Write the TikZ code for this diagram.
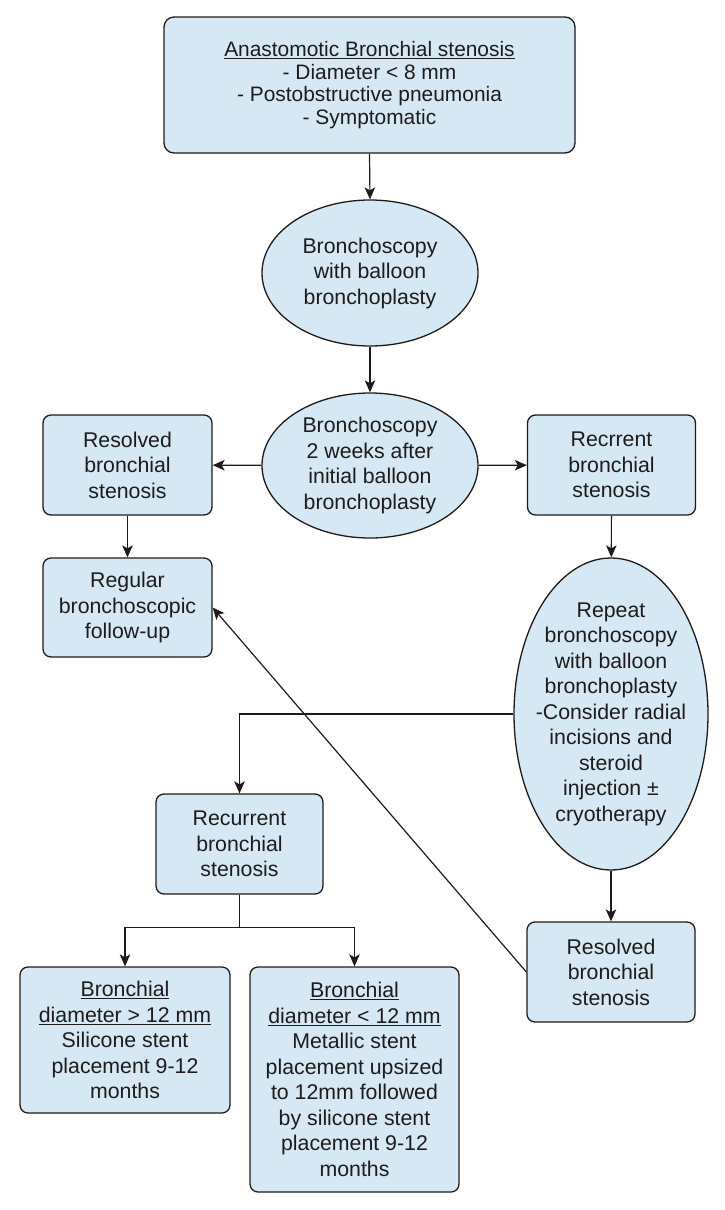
\documentclass[tikz,border=0pt]{standalone}
\usepackage{fontspec}
\setmainfont{Liberation Sans}
\usetikzlibrary{shapes.geometric,arrows.meta}
\definecolor{boxfill}{RGB}{214,232,244}
\definecolor{ink}{RGB}{30,27,28}
\begin{document}
\begin{tikzpicture}[x=1pt,y=-1pt,
  base/.style={draw=ink, fill=boxfill, line width=1.3pt, text=ink, align=center, font=\fontsize{21.3}{25.5}\selectfont},
  rbox/.style={base, rectangle, rounded corners=8pt, inner sep=0pt},
  oval/.style={base, ellipse, inner sep=-25pt},
  conn/.style={draw=ink, line width=1.2pt},
  arr/.style={conn, -{Stealth[length=12pt,width=10.5pt,inset=3pt]}}
]
\useasboundingbox (0,0) rectangle (724,1210);

\node[rbox, minimum width=411pt, minimum height=136pt, rounded corners=10pt, font=\fontsize{20.9}{22.7}\selectfont] (top) at (369.5,85) {\underline{Anastomotic Bronchial stenosis}\\- Diameter < 8 mm\\- Postobstructive pneumonia\\- Symptomatic};
\node[oval, minimum width=216pt, minimum height=146pt] (e1) at (370,273) {Bronchoscopy\\with balloon\\bronchoplasty};
\node[oval, minimum width=216pt, minimum height=145pt] (e2) at (370,465.5) {Bronchoscopy\\2 weeks after\\initial balloon\\bronchoplasty};
\node[rbox, minimum width=169pt, minimum height=100pt] (res1) at (127.5,465) {Resolved\\bronchial\\stenosis};
\node[rbox, minimum width=168pt, minimum height=100pt] (rec1) at (611.5,465) {Recrrent\\bronchial\\stenosis};
\node[rbox, minimum width=169pt, minimum height=99pt] (reg) at (127.5,607.5) {Regular\\bronchoscopic\\follow-up};
\node[oval, minimum width=194pt, minimum height=312pt] (big) at (611,714) {Repeat\\bronchoscopy\\with balloon\\bronchoplasty\\-Consider radial\\incisions and\\steroid\\injection ±\\cryotherapy};
\node[rbox, minimum width=167pt, minimum height=100pt] (rec2) at (239.5,844) {Recurrent\\bronchial\\stenosis};
\node[rbox, minimum width=210pt, minimum height=146pt] (bl) at (125,1040) {\underline{Bronchial}\\\underline{diameter > 12 mm}\\Silicone stent\\placement 9-12\\months};
\node[rbox, minimum width=209pt, minimum height=225pt] (br) at (354.5,1079.5) {\underline{Bronchial}\\\underline{diameter < 12 mm}\\Metallic stent\\placement upsized\\to 12mm followed\\by silicone stent\\placement 9-12\\months};
\node[rbox, minimum width=168pt, minimum height=100pt] (res2) at (611,972) {Resolved\\bronchial\\stenosis};

\draw[arr] (top.south) -- (e1.north);
\draw[arr] (e1) -- (e2);
\draw[arr] (e2) -- (res1);
\draw[arr] (e2) -- (rec1);
\draw[arr] (res1) -- (reg);
\draw[arr] (rec1) -- (big);
\draw[arr] (big.west) -| (rec2.north);
\coordinate (split) at (239.5,927.5);
\draw[conn] (rec2.south) -- (split);
\draw[arr] (split) -| (bl.north);
\draw[arr] (split) -| (br.north);
\draw[arr] (big) -- (res2);
\draw[arr] (res2.west) -- (reg.east);
\end{tikzpicture}
\end{document}
